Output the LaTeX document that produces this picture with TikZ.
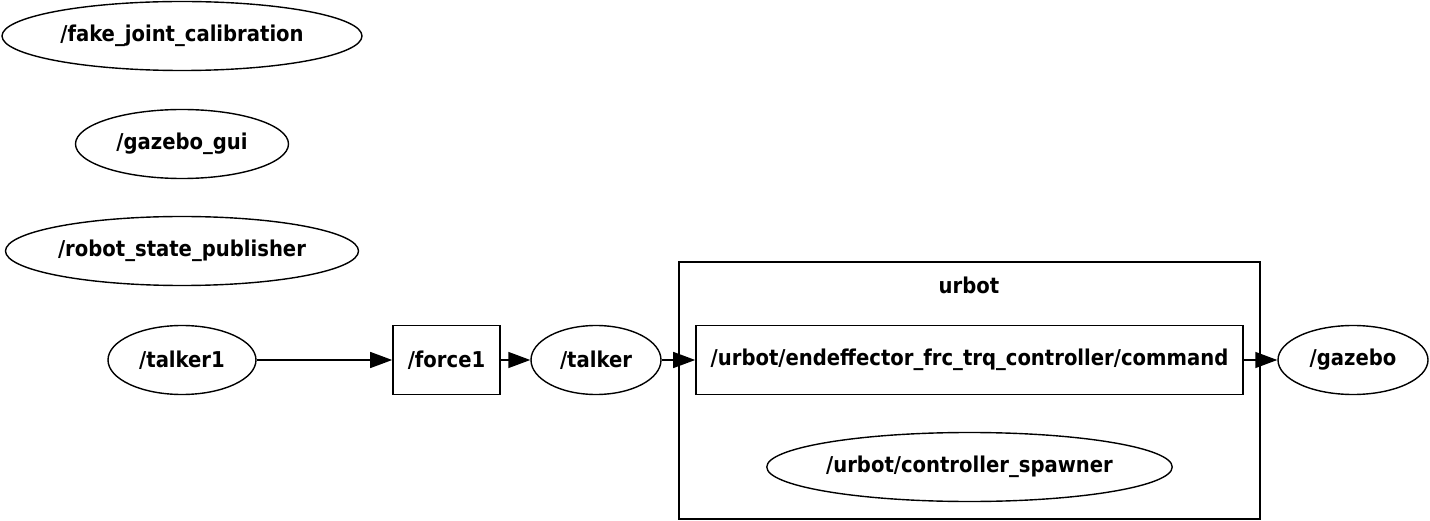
\documentclass[tikz,border=0pt]{standalone}
\usepackage{fontspec}
\setmainfont{DejaVu Sans Condensed}[BoldFont={DejaVu Sans Condensed Bold}]
\usetikzlibrary{shapes.geometric,arrows.meta}
\tikzset{
  every node/.style={font=\bfseries\fontsize{21.8}{24}\selectfont},
  nodeell/.style={draw, ellipse, line width=1.4pt, inner sep=0pt, minimum height=69pt},
  topicbox/.style={draw, rectangle, line width=1.6pt, inner sep=0pt, minimum height=69pt},
  edge/.style={line width=1.4pt, -{Triangle[length=22pt,width=16pt]}},
}
\begin{document}
\begin{tikzpicture}[x=1pt,y=-1pt]
\useasboundingbox (0,0) rectangle (1430,521);
\node[nodeell, minimum width=360pt] (fjc) at (182,36) {/fake\_joint\_calibration};
\node[nodeell, minimum width=213pt] (gui) at (182,144) {/gazebo\_gui};
\node[nodeell, minimum width=353pt] (rsp) at (182,251) {/robot\_state\_publisher};
\node[nodeell, minimum width=148pt] (talker1) at (182,360) {/talker1};
\node[topicbox, minimum width=107pt] (force1) at (446.5,360) {/force1};
\node[nodeell, minimum width=130pt] (talker) at (596,360) {/talker};
\draw[line width=1.6pt] (679,262) rectangle (1260,519);
\node (urbot) at (969,285) {urbot};
\node[topicbox, minimum width=547pt] (cmd) at (969.5,360) {/urbot/endeffector\_frc\_trq\_controller/command};
\node[nodeell, minimum width=405pt] (spawner) at (969.5,467) {/urbot/controller\_spawner};
\node[nodeell, minimum width=150pt] (gazebo) at (1353,360) {/gazebo};
\draw[edge] (talker1) -- (force1);
\draw[edge] (force1) -- (talker);
\draw[edge] (talker) -- (cmd);
\draw[edge] (cmd) -- (gazebo);
\end{tikzpicture}
\end{document}
